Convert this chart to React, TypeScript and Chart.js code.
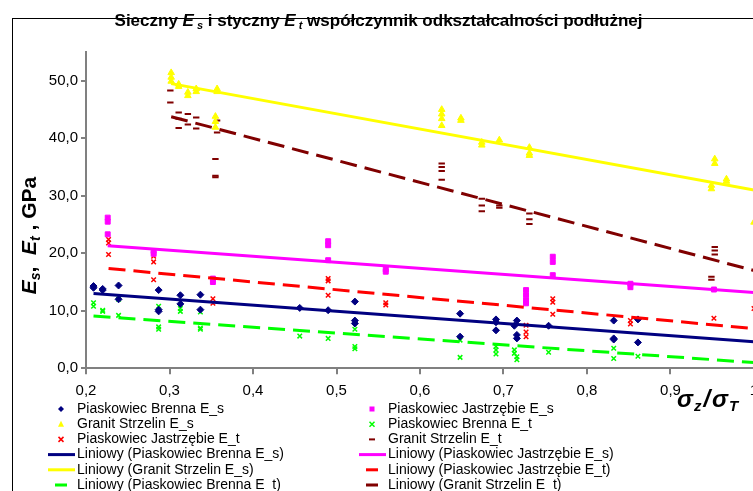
import React, { useEffect, useRef } from "react";
import { Chart, registerables } from "chart.js";

Chart.register(...registerables);

const FONT = '"Liberation Sans", Arial, Helvetica, sans-serif';

// ---- data (x = sigma_z / sigma_T, y = GPa) ----
const brennaEs: [number, number][] = [
  [0.209, 14.0], [0.209, 14.3], [0.22, 13.6], [0.22, 13.8], [0.239, 14.4], [0.239, 12.0],
  [0.287, 13.6], [0.287, 9.9], [0.287, 10.2], [0.313, 12.7], [0.313, 11.2], [0.337, 12.8],
  [0.337, 10.2], [0.456, 10.5], [0.49, 10.1], [0.522, 11.6], [0.522, 8.3], [0.522, 7.8],
  [0.648, 9.5], [0.648, 5.5], [0.691, 8.5], [0.691, 8.0], [0.691, 6.6], [0.713, 7.4],
  [0.716, 8.3], [0.716, 5.8], [0.716, 5.2], [0.754, 7.4], [0.832, 8.3], [0.832, 5.2],
  [0.832, 5.0], [0.861, 8.5], [0.861, 4.5],
];
const brennaEt: [number, number][] = [
  [0.209, 11.4], [0.209, 10.8], [0.22, 9.9], [0.22, 10.1], [0.239, 9.2], [0.239, 12.0],
  [0.287, 10.8], [0.287, 6.8], [0.287, 7.2], [0.313, 10.4], [0.313, 9.9], [0.337, 9.8],
  [0.337, 6.8], [0.337, 7.0], [0.456, 5.6], [0.49, 5.2], [0.522, 6.8], [0.522, 3.8],
  [0.522, 3.4], [0.648, 4.9], [0.648, 1.9], [0.691, 3.8], [0.691, 3.2], [0.691, 2.5],
  [0.713, 3.2], [0.713, 2.6], [0.716, 2.0], [0.716, 1.5], [0.754, 2.8], [0.832, 3.5],
  [0.832, 1.7], [0.861, 2.1],
];
const jastrzEs: [number, number][] = [
  [0.226, 26.2], [0.226, 25.5], [0.226, 23.3], [0.281, 20.4], [0.281, 19.9], [0.352, 15.6],
  [0.352, 15.0], [0.49, 22.1], [0.49, 21.4], [0.49, 18.8], [0.559, 17.2], [0.559, 16.8],
  [0.727, 13.6], [0.727, 12.7], [0.727, 11.8], [0.727, 11.3], [0.759, 19.4], [0.759, 18.5],
  [0.759, 16.2], [0.852, 14.7], [0.852, 14.1], [0.952, 13.7],
];
const jastrzEt: [number, number][] = [
  [0.227, 22.4], [0.227, 21.8], [0.227, 19.8], [0.281, 19.5], [0.281, 18.5], [0.281, 15.4],
  [0.352, 12.1], [0.352, 11.3], [0.49, 15.6], [0.49, 15.2], [0.49, 12.7], [0.559, 11.4],
  [0.559, 11.0], [0.727, 7.5], [0.727, 6.3], [0.727, 5.5], [0.759, 12.1], [0.759, 11.5],
  [0.759, 9.4], [0.852, 8.3], [0.852, 7.7], [0.952, 8.7], [1.0, 10.4],
];
const granitEs: [number, number][] = [
  [0.302, 51.4], [0.302, 50.6], [0.302, 49.9], [0.311, 49.4], [0.311, 49.0], [0.322, 48.0],
  [0.322, 47.4], [0.332, 48.6], [0.332, 48.1], [0.357, 48.6], [0.357, 48.1], [0.355, 43.8],
  [0.355, 42.9], [0.355, 41.9], [0.626, 45.0], [0.626, 44.2], [0.626, 43.4], [0.626, 42.2],
  [0.649, 43.5], [0.649, 43.1], [0.674, 39.3], [0.674, 38.8], [0.695, 39.7], [0.731, 38.4],
  [0.731, 37.4], [0.731, 37.0], [0.953, 36.4], [0.953, 35.6], [0.949, 31.8], [0.949, 31.2],
  [0.967, 32.9], [0.967, 32.5], [1.0, 25.4],
];
const granitEt: [number, number][] = [
  [0.301, 48.3], [0.301, 46.2], [0.311, 44.5], [0.311, 43.4], [0.311, 41.8], [0.322, 44.2],
  [0.322, 42.4], [0.332, 43.6], [0.332, 41.7], [0.357, 43.1], [0.357, 41.0], [0.355, 36.4],
  [0.355, 33.5], [0.355, 33.2], [0.626, 35.6], [0.626, 35.0], [0.626, 34.3], [0.626, 32.8],
  [0.674, 29.5], [0.674, 28.3], [0.674, 27.3], [0.695, 28.3], [0.695, 27.9], [0.731, 26.9],
  [0.731, 25.9], [0.731, 25.1], [0.953, 21.1], [0.953, 20.5], [0.953, 19.8], [0.949, 15.9],
  [0.949, 15.4],
];

// linear trend lines (Excel "Liniowy"), endpoints
const trendBrennaEs: [number, number][] = [[0.209, 13.0], [1.0, 4.6]];
const trendBrennaEt: [number, number][] = [[0.209, 9.1], [1.0, 1.0]];
const trendJastrzEs: [number, number][] = [[0.226, 21.3], [1.0, 13.2]];
const trendJastrzEt: [number, number][] = [[0.227, 17.35], [1.0, 6.9]];
const trendGranitEs: [number, number][] = [[0.302, 49.5], [1.0, 31.0]];
const trendGranitEt: [number, number][] = [[0.302, 43.75], [1.0, 17.0]];

const xTickValues = [0.2, 0.3, 0.4, 0.5, 0.6, 0.7, 0.8, 0.9, 1.0];
const xTickLabels = ["0,2", "0,3", "0,4", "0,5", "0,6", "0,7", "0,8", "0,9", "1"];
const yTickValues = [0, 10, 20, 30, 40, 50];
const yTickLabels = ["0,0", "10,0", "20,0", "30,0", "40,0", "50,0"];

const NAVY = "#000080";
const MAGENTA = "#FF00FF";
const YELLOW = "#FFFF00";
const GREEN = "#00FF00";
const RED = "#FF0000";
const DARKRED = "#800000";

const toPts = (a: [number, number][]) => a.map(([x, y]) => ({ x, y }));

type Run = { t: string; f: string; dy?: number; gap?: number };

function runsWidth(ctx: CanvasRenderingContext2D, runs: Run[]) {
  let w = 0;
  for (const r of runs) {
    ctx.font = r.f;
    w += ctx.measureText(r.t).width + (r.gap || 0);
  }
  return w;
}
function drawRuns(ctx: CanvasRenderingContext2D, runs: Run[], x: number, y: number) {
  let cx = x;
  for (const r of runs) {
    ctx.font = r.f;
    ctx.fillText(r.t, cx, y + (r.dy || 0));
    cx += ctx.measureText(r.t).width + (r.gap || 0);
  }
}

function drawMarker(ctx: CanvasRenderingContext2D, kind: string, color: string, x: number, y: number) {
  ctx.save();
  ctx.fillStyle = color;
  ctx.strokeStyle = color;
  ctx.beginPath();
  if (kind === "diamond") {
    ctx.moveTo(x, y - 3); ctx.lineTo(x + 3, y); ctx.lineTo(x, y + 3); ctx.lineTo(x - 3, y);
    ctx.closePath(); ctx.fill();
  } else if (kind === "square") {
    ctx.fillRect(x - 2.5, y - 2.5, 5, 5);
  } else if (kind === "triangle") {
    ctx.moveTo(x, y - 3.5); ctx.lineTo(x + 3, y + 2.5); ctx.lineTo(x - 3, y + 2.5);
    ctx.closePath(); ctx.fill();
  } else if (kind === "cross") {
    ctx.lineWidth = 1.5;
    ctx.moveTo(x - 2.5, y - 2.5); ctx.lineTo(x + 2.5, y + 2.5);
    ctx.moveTo(x + 2.5, y - 2.5); ctx.lineTo(x - 2.5, y + 2.5);
    ctx.stroke();
  } else if (kind === "dash") {
    ctx.fillRect(x - 3, y - 1, 6, 2);
  }
  ctx.restore();
}

const legendItems = [
  { label: "Piaskowiec Brenna E_s", kind: "diamond", color: NAVY, col: 0, row: 0 },
  { label: "Piaskowiec Jastrzębie E_s", kind: "square", color: MAGENTA, col: 1, row: 0 },
  { label: "Granit Strzelin E_s", kind: "triangle", color: YELLOW, col: 0, row: 1 },
  { label: "Piaskowiec Brenna E_t", kind: "cross", color: GREEN, col: 1, row: 1 },
  { label: "Piaskowiec Jastrzębie E_t", kind: "cross", color: RED, col: 0, row: 2 },
  { label: "Granit Strzelin E_t", kind: "dash", color: DARKRED, col: 1, row: 2 },
  { label: "Liniowy (Piaskowiec Brenna E_s)", kind: "solid", color: NAVY, col: 0, row: 3 },
  { label: "Liniowy (Piaskowiec Jastrzębie E_s)", kind: "solid", color: MAGENTA, col: 1, row: 3 },
  { label: "Liniowy (Granit Strzelin E_s)", kind: "solid", color: YELLOW, col: 0, row: 4 },
  { label: "Liniowy (Piaskowiec Jastrzębie E_t)", kind: "dashed", color: RED, col: 1, row: 4 },
  { label: "Liniowy (Piaskowiec Brenna E_t)", kind: "dashed", color: GREEN, col: 0, row: 5 },
  { label: "Liniowy (Granit Strzelin E_t)", kind: "dashed", color: DARKRED, col: 1, row: 5 },
];

const overlayPlugin = {
  id: "overlay",
  afterDraw(chart: any) {
    const ctx: CanvasRenderingContext2D = chart.ctx;
    ctx.save();
    // chart-area frame (Excel border)
    ctx.strokeStyle = "#000";
    ctx.lineWidth = 1;
    ctx.strokeRect(12.5, 18.5, 2000, 2000);

    ctx.fillStyle = "#000";
    ctx.textBaseline = "alphabetic";
    ctx.textAlign = "left";

    // title
    const B = `bold 17px ${FONT}`;
    const BI = `italic bold 17px ${FONT}`;
    const BIs = `italic bold 11px ${FONT}`;
    const title: Run[] = [
      { t: "Sieczny ", f: B }, { t: "E", f: BI }, { t: " s", f: BIs, dy: 3 },
      { t: " i styczny ", f: B }, { t: "E", f: BI }, { t: " t", f: BIs, dy: 3 },
      { t: " współczynnik odkształcalności podłużnej", f: B },
    ];
    const tw = runsWidth(ctx, title);
    drawRuns(ctx, title, 378.5 - tw / 2, 26);

    // y-axis title (rotated)
    const YB = `bold 21px ${FONT}`;
    const YBI = `italic bold 21px ${FONT}`;
    const YBs = `italic bold 14px ${FONT}`;
    const ytitle: Run[] = [
      { t: "E", f: YBI }, { t: "s", f: YBs, dy: 4 }, { t: ",  ", f: YB },
      { t: "E", f: YBI }, { t: "t", f: YBs, dy: 4 }, { t: " , GPa", f: YB },
    ];
    const yw = runsWidth(ctx, ytitle);
    ctx.save();
    ctx.translate(36, 235.5);
    ctx.rotate(-Math.PI / 2);
    drawRuns(ctx, ytitle, -yw / 2, 0);
    ctx.restore();

    // x-axis title
    const SB = `italic bold 24px ${FONT}`;
    const SBs = `italic bold 15px ${FONT}`;
    const xtitle: Run[] = [
      { t: "σ", f: SB, gap: 1 }, { t: "z", f: SBs, dy: 4, gap: 2 }, { t: "/", f: SB, gap: 2 },
      { t: "σ", f: SB, gap: 1 }, { t: "T", f: SBs, dy: 4 },
    ];
    drawRuns(ctx, xtitle, 677, 407);

    // legend
    ctx.textBaseline = "middle";
    for (const it of legendItems) {
      const y = 409 + it.row * 15.2;
      const mx = it.col === 0 ? 61 : 372;
      const tx = it.col === 0 ? 77 : 388;
      if (it.kind === "solid") {
        ctx.fillStyle = it.color;
        ctx.fillRect(mx - 13, y - 1.5, 27, 3);
      } else if (it.kind === "dashed") {
        ctx.fillStyle = it.color;
        ctx.fillRect(mx - 6, y - 1.5, 12, 3);
      } else {
        drawMarker(ctx, it.kind, it.color, mx, y);
      }
      ctx.fillStyle = "#000";
      ctx.font = `14px ${FONT}`;
      ctx.fillText(it.label, tx, y);
    }
    ctx.restore();
  },
};

export default function App() {
  const ref = useRef<HTMLCanvasElement | null>(null);

  useEffect(() => {
    if (!ref.current) return;
    const trend = (label: string, d: [number, number][], color: string, dashed: boolean) => ({
      label,
      data: toPts(d),
      showLine: true,
      borderColor: color,
      backgroundColor: color,
      borderWidth: 3,
      borderDash: dashed ? [17, 8] : [],
      borderCapStyle: "butt",
      pointRadius: 0,
      fill: false,
      order: 0,
    });
    const pts = (label: string, d: [number, number][], color: string, style: string, r: number, bw: number) => ({
      label,
      data: toPts(d),
      showLine: false,
      pointStyle: style,
      pointRadius: r,
      pointBorderWidth: bw,
      pointBackgroundColor: color,
      pointBorderColor: color,
      borderColor: color,
      backgroundColor: color,
      order: 1,
    });
    const chart = new Chart(ref.current, {
      type: "scatter",
      data: {
        datasets: [
          pts("Piaskowiec Brenna E_s", brennaEs, NAVY, "rectRot", 3.5, 1),
          pts("Piaskowiec Jastrzębie E_s", jastrzEs, MAGENTA, "rect", 3.5, 1),
          pts("Granit Strzelin E_s", granitEs, YELLOW, "triangle", 3.8, 1),
          pts("Piaskowiec Brenna E_t", brennaEt, GREEN, "crossRot", 3.2, 1.5),
          pts("Piaskowiec Jastrzębie E_t", jastrzEt, RED, "crossRot", 3.2, 1.5),
          pts("Granit Strzelin E_t", granitEt, DARKRED, "line", 3.2, 2),
          trend("Liniowy (Piaskowiec Brenna E_s)", trendBrennaEs, NAVY, false),
          trend("Liniowy (Piaskowiec Jastrzębie E_s)", trendJastrzEs, MAGENTA, false),
          trend("Liniowy (Granit Strzelin E_s)", trendGranitEs, YELLOW, false),
          trend("Liniowy (Piaskowiec Jastrzębie E_t)", trendJastrzEt, RED, true),
          trend("Liniowy (Piaskowiec Brenna E_t)", trendBrennaEt, GREEN, true),
          trend("Liniowy (Granit Strzelin E_t)", trendGranitEt, DARKRED, true),
        ] as any,
      },
      options: {
        responsive: false,
        animation: false,
        devicePixelRatio: 1,
        layout: { padding: { left: 12, top: 52, right: 46, bottom: 121.7 } },
        plugins: { legend: { display: false }, tooltip: { enabled: false }, title: { display: false } },
        scales: {
          x: {
            type: "linear",
            min: 0.2,
            max: 1.0,
            afterBuildTicks: (s: any) => { s.ticks = xTickValues.map((v) => ({ value: v })); },
            afterFit: (s: any) => { s.height = 30; },
            ticks: {
              autoSkip: false,
              maxRotation: 0,
              padding: 8,
              color: "#000",
              font: { family: FONT, size: 15 },
              callback: (_v: any, i: number) => xTickLabels[i],
            },
            grid: { drawOnChartArea: false, drawTicks: true, tickLength: 6, color: "#808080", lineWidth: 2 },
            border: { display: true, color: "#808080", width: 2 },
          },
          y: {
            type: "linear",
            min: 0,
            max: 55,
            afterBuildTicks: (s: any) => { s.ticks = yTickValues.map((v) => ({ value: v })); },
            afterFit: (s: any) => { s.width = 74; },
            ticks: {
              padding: 3,
              color: "#000",
              font: { family: FONT, size: 15 },
              callback: (_v: any, i: number) => yTickLabels[i],
            },
            grid: { drawOnChartArea: false, drawTicks: true, tickLength: 5, color: "#808080", lineWidth: 2 },
            border: { display: true, color: "#808080", width: 2 },
          },
        },
      },
      plugins: [overlayPlugin],
    } as any);
    return () => chart.destroy();
  }, []);

  return (
    <div style={{ position: "absolute", left: 0, top: 0, width: 753, height: 491, overflow: "hidden", background: "#fff" }}>
      <canvas ref={ref} width={800} height={520} style={{ display: "block", width: 800, height: 520 }} />
    </div>
  );
}
